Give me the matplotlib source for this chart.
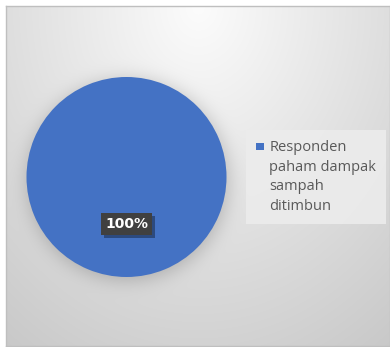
import numpy as np
import matplotlib
matplotlib.use("Agg")
import matplotlib.pyplot as plt
from matplotlib.patches import Patch, Rectangle
from matplotlib.legend_handler import HandlerPatch
import matplotlib.patheffects as pe
from math import erf

# Data
categories = ["Responden\npaham dampak\nsampah\nditimbun"]
values = [100]
colors = ["#4472C4"]

W, H, DPI = 390, 347, 100
fig = plt.figure(figsize=(W / DPI, H / DPI), dpi=DPI)
fig.patch.set_facecolor("white")

# Chart area with a soft gradient background and a gray outline
bg_rect = [6 / W, 1 / H, 384 / W, 340 / H]
pie_rect = [26 / W, (H - 277) / H, 201 / W, 200 / H]

bg = fig.add_axes(bg_rect)
bw, bh = 384, 340
yy, xx = np.mgrid[0:bh, 0:bw].astype(float)
dxn = (xx - bw / 2) / (bw / 2)
dyn = yy / bh
shade = 252 - np.sqrt((30 * dxn) ** 2 + (42 * dyn) ** 2)

# soft shadow around the pie
pcx = (pie_rect[0] + pie_rect[2] / 2) * W - 6
pcy = (H - (pie_rect[1] + pie_rect[3] / 2) * H) - 6
prad = pie_rect[2] * W / 2
r = np.sqrt((xx - pcx - 1) ** 2 + (yy - pcy - 2) ** 2)
verf = np.vectorize(erf)
shadow = 0.5 * (1 - verf((r - prad) / (9 * np.sqrt(2))))
shade = shade - 45 * shadow
img = np.clip(shade, 0, 255) / 255.0
bg.imshow(np.dstack([img, img, img]), extent=(0, bw, bh, 0), aspect="auto",
          interpolation="bilinear")
bg.set_xticks([])
bg.set_yticks([])
for s in bg.spines.values():
    s.set_color("#bfbfbf")
    s.set_linewidth(1.0)

# Pie
ax = fig.add_axes(pie_rect)
wedges, texts, autotexts = ax.pie(
    values, colors=colors, startangle=90, counterclock=False,
    autopct=lambda p: f"{p:.0f}%", pctdistance=0.47,
    wedgeprops=dict(linewidth=0),
    textprops=dict(color="white", fontsize=10, fontweight="bold"),
)
ax.set_xlim(-1, 1)
ax.set_ylim(-1, 1)
ax.set_aspect("equal")
for t in autotexts:
    t.set_bbox(dict(boxstyle="square,pad=0.3", facecolor="#404040",
                    edgecolor="none"))
    t.get_bbox_patch().set_path_effects([
        pe.SimplePatchShadow(offset=(2, -2), shadow_rgbFace="black", alpha=0.35),
        pe.Normal(),
    ])


# Legend: small square key sitting beside the first line of the label
def square_key(legend, orig_handle, xdescent, ydescent, width, height, fontsize):
    side = 0.5 * fontsize
    return Rectangle((-xdescent + (width - side) / 2, -ydescent), side, side)


handles = [Patch(facecolor=c, edgecolor="none") for c in colors]
leg = fig.legend(
    handles, categories, loc="upper left",
    bbox_to_anchor=(246 / W, 1 - 130 / H),
    frameon=True, fancybox=False,
    handlelength=0.5, handleheight=0.65, handletextpad=0.4,
    borderpad=0.7, borderaxespad=0,
    prop={"family": "Open Sans", "size": 10.5},
    handler_map={Patch: HandlerPatch(patch_func=square_key)},
)
leg.get_frame().set_facecolor("#ececec")
leg.get_frame().set_edgecolor("none")
leg.get_frame().set_alpha(0.9)
for t in leg.get_texts():
    t.set_color("#595959")
    t.set_linespacing(1.42)
for col in leg._legend_handle_box.get_children():
    for row in col.get_children():
        row.align = "top"

fig.savefig("out.png", dpi=DPI)
